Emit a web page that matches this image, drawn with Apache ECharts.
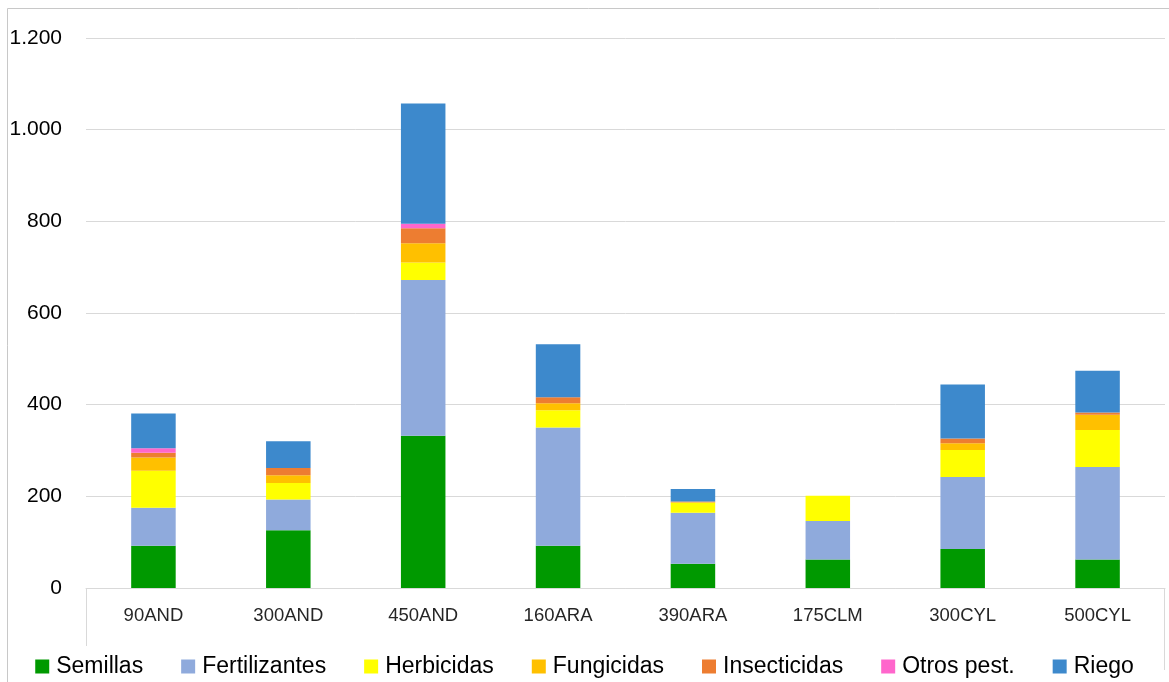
<!DOCTYPE html>
<html>
<head>
<meta charset="utf-8">
<script src="https://cdn.jsdelivr.net/npm/echarts@6/dist/echarts.min.js"></script>
<style>
html,body{margin:0;padding:0;background:#fff;}
#chart{width:1169px;height:682px;}
</style>
</head>
<body>
<div id="chart"></div>
<script>
const categories = ['90AND','300AND','450AND','160ARA','390ARA','175CLM','300CYL','500CYL'];
const seriesNames = ['Semillas','Fertilizantes','Herbicidas','Fungicidas','Insecticidas','Otros pest.','Riego'];
const semillas      = [92, 126, 332, 92, 53, 62, 85, 62];
const fertilizantes = [83, 67, 340, 258, 111, 84, 157, 202];
const herbicidas    = [81, 36, 38, 38, 22, 55, 59, 81];
const fungicidas    = [29, 17, 42, 15, 1, 0, 15, 33];
const insecticidas  = [10, 16, 33, 13, 2, 0, 10, 5];
const otros         = [10, 0, 10, 0, 0, 0, 0, 0];
const riego         = [76, 58, 262, 116, 27, 0, 118, 91];
const yTicks = [0, 200, 400, 600, 800, 1000, 1200];

const values = [semillas, fertilizantes, herbicidas, fungicidas, insecticidas, otros, riego];
const colors = ['#009900','#8faadc','#ffff00','#ffc000','#ed7d31','#ff66cc','#3d89cc'];

const G = {left: 86, right: 4, top: 38, bottom: 94};
const W = 1169, H = 682;

const chart = echarts.init(document.getElementById('chart'), null, {renderer: 'canvas'});
const font = 'Liberation Sans, Arial, sans-serif';

chart.setOption({
  animation: false,
  backgroundColor: '#ffffff',
  grid: {left: G.left, right: G.right, top: G.top, bottom: G.bottom, containLabel: false},
  legend: {
    data: seriesNames,
    top: 650,
    left: 'center',
    itemWidth: 14,
    itemHeight: 14,
    itemGap: 38,
    icon: 'rect',
    textStyle: {fontFamily: font, fontSize: 23, color: '#000000', padding: [0, 0, 0, 2]}
  },
  xAxis: {
    type: 'category',
    data: categories,
    boundaryGap: true,
    axisLine: {show: true, lineStyle: {color: '#d9d9d9', width: 1}},
    axisTick: {show: false},
    axisLabel: {fontFamily: font, fontSize: 18.5, color: '#262626', margin: 18},
    splitLine: {show: false}
  },
  yAxis: {
    type: 'value',
    min: yTicks[0],
    max: yTicks[yTicks.length - 1],
    interval: 200,
    axisLine: {show: false},
    axisTick: {show: false},
    axisLabel: {
      fontFamily: font, fontSize: 21, color: '#000000', margin: 24,
      formatter: v => v.toString().replace(/\B(?=(\d{3})+(?!\d))/g, '.')
    },
    splitLine: {show: true, lineStyle: {color: '#d9d9d9', width: 1}}
  },
  graphic: [
    {type: 'rect', silent: true, z: -1,
      shape: {x: 7.5, y: 8.5, width: 1400, height: 900},
      style: {fill: 'none', stroke: '#c8c8c8', lineWidth: 1}},
    {type: 'line', silent: true,
      shape: {x1: G.left + 0.5, y1: H - G.bottom, x2: G.left + 0.5, y2: 646},
      style: {stroke: '#d9d9d9', lineWidth: 1}},
    {type: 'line', silent: true,
      shape: {x1: W - G.right - 0.5, y1: H - G.bottom, x2: W - G.right - 0.5, y2: 670},
      style: {stroke: '#d9d9d9', lineWidth: 1}}
  ],
  series: seriesNames.map((name, i) => ({
    name: name,
    type: 'bar',
    stack: 'total',
    barWidth: '33%',
    data: values[i],
    itemStyle: {color: colors[i]},
    emphasis: {disabled: true}
  }))
});
</script>
</body>
</html>
